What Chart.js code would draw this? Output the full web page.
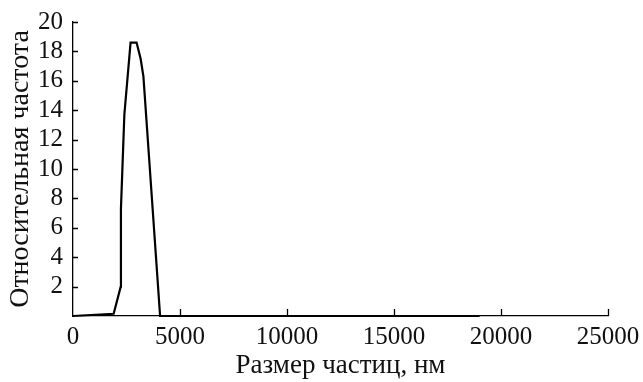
<!DOCTYPE html>
<html>
<head>
<meta charset="utf-8">
<script src="https://cdn.jsdelivr.net/npm/chart.js@4"></script>
<style>
  html, body { margin: 0; padding: 0; background: #fff; }
  #wrap { width: 643px; height: 382px; }
</style>
</head>
<body>
<div id="wrap"><canvas id="chart" width="643" height="382"></canvas></div>
<script>
// particle size distribution
const sizes = [0, 1900, 2230, 2240, 2400, 2690, 2970, 3160, 3290, 4070, 19000];
const freqs = [0, 0.15, 2.0, 7.3, 13.7, 18.6, 18.6, 17.5, 16.3, 0, 0];
const xTicks = [0, 5000, 10000, 15000, 20000, 25000];
const yTicks = [2, 4, 6, 8, 10, 12, 14, 16, 18, 20];

const points = sizes.map((s, i) => ({ x: s, y: freqs[i] }));
const serif = "'Liberation Serif', 'DejaVu Serif', serif";

//Draws inward tick marks on both axes
const innerTicks = {
    id: "innerTicks",
    afterDraw(chart) {
        const ctx = chart.ctx;
        const xs = chart.scales.x;
        const ys = chart.scales.y;
        ctx.save();
        ctx.strokeStyle = "#000";
        ctx.lineWidth = 1.3;
        ctx.beginPath();
        xTicks.forEach(v => {
            if (v === 0) return;
            const px = Math.round(xs.getPixelForValue(v)) + 0.5;
            ctx.moveTo(px, ys.bottom);
            ctx.lineTo(px, ys.bottom - 7);
        });
        yTicks.forEach(v => {
            const py = Math.round(ys.getPixelForValue(v)) + 0.5;
            ctx.moveTo(xs.left, py);
            ctx.lineTo(xs.left + 5, py);
        });
        ctx.stroke();
        ctx.restore();
    }
};

new Chart(document.getElementById("chart").getContext("2d"), {
    type: "scatter",
    data: {
        datasets: [{
            data: points,
            showLine: true,
            borderColor: "#000",
            borderWidth: 2.2,
            pointRadius: 0,
            fill: false,
            tension: 0,
            clip: false
        }]
    },
    options: {
        responsive: false,
        animation: false,
        devicePixelRatio: 1,
        layout: { padding: { left: 0, top: 22, right: 35, bottom: 0 } },
        plugins: { legend: { display: false }, tooltip: { enabled: false } },
        scales: {
            x: {
                type: "linear",
                min: 0,
                max: 25000,
                afterBuildTicks(scale) {
                    scale.ticks = xTicks.map(v => ({ value: v }));
                },
                afterFit(scale) {
                    scale.height = 66;
                    scale.paddingLeft = 0;
                    scale.paddingRight = 0;
                },
                grid: { display: true, drawOnChartArea: false, drawTicks: false },
                border: { color: "#000", width: 1.3 },
                ticks: {
                    color: "#111",
                    padding: 6,
                    maxRotation: 0,
                    autoSkip: false,
                    font: { family: serif, size: 25 },
                    callback: v => String(v)
                },
                title: {
                    display: true,
                    text: "Размер частиц, нм",
                    color: "#111",
                    padding: 0,
                    font: { family: serif, size: 27 }
                }
            },
            y: {
                min: 0,
                max: 20,
                afterBuildTicks(scale) {
                    scale.ticks = yTicks.map(v => ({ value: v }));
                },
                afterFit(scale) {
                    scale.width = 73;
                    scale.paddingTop = 0;
                    scale.paddingBottom = 0;
                },
                grid: { display: true, drawOnChartArea: false, drawTicks: false },
                border: { color: "#000", width: 1.3 },
                ticks: {
                    color: "#111",
                    padding: 10,
                    autoSkip: false,
                    font: { family: serif, size: 25 },
                    callback: v => String(v)
                },
                title: {
                    display: true,
                    text: "Относительная частота",
                    color: "#111",
                    padding: { top: 4, bottom: 0 },
                    font: { family: serif, size: 28 }
                }
            }
        }
    },
    plugins: [innerTicks]
});
</script>
</body>
</html>
